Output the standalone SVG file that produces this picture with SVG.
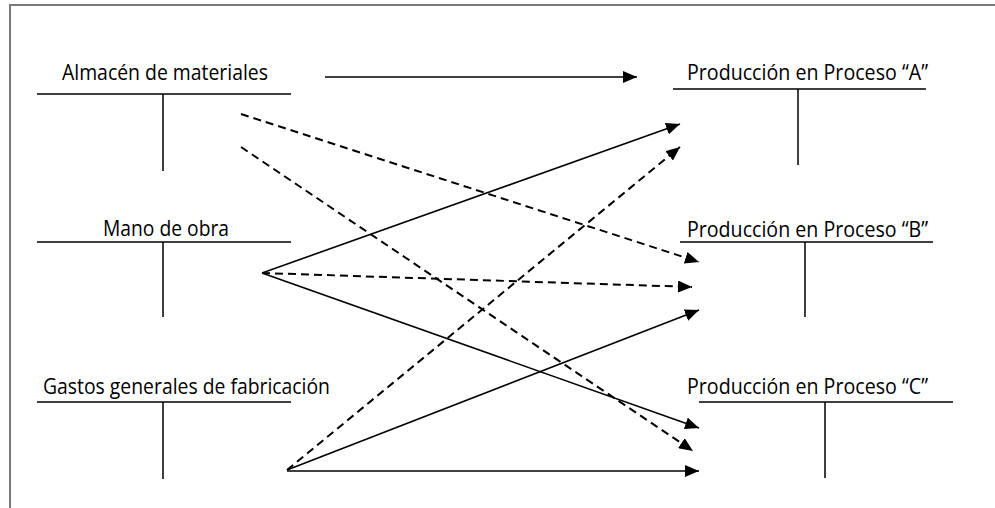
<svg xmlns="http://www.w3.org/2000/svg" width="995" height="508" viewBox="0 0 995 508">
  <style>
    .frame { stroke: #7a7a7a; stroke-width: 2; fill: none; }
    .acct { stroke: #000; stroke-width: 1.5; fill: none; }
    .lbl { font-family: "Open Sans", "Liberation Sans", sans-serif; font-size: 21px; fill: #000; }
    .flow { stroke: #000; stroke-width: 1.6; fill: none; marker-end: url(#head); }
    .dash { stroke-width: 2; stroke-dasharray: 8 5; }
  </style>
  <defs>
    <marker id="head" markerUnits="userSpaceOnUse" markerWidth="14" markerHeight="12" refX="14" refY="6" orient="auto">
      <path d="M0,0 L14,6 L0,12 z" fill="#000"/>
    </marker>
  </defs>

  <rect width="995" height="508" fill="#fff"/>
  <!-- page frame -->
  <path class="frame" d="M10,508 V5 H995"/>

  <!-- source accounts -->
  <g id="almacen">
    <text class="lbl" x="62" y="80" textLength="206" lengthAdjust="spacingAndGlyphs">Almacén de materiales</text>
    <path class="acct" d="M37,94 H291 M163,94 V171"/>
  </g>
  <g id="mano-obra">
    <text class="lbl" x="103" y="236" textLength="126" lengthAdjust="spacingAndGlyphs">Mano de obra</text>
    <path class="acct" d="M37,242 H291 M163,242 V317"/>
  </g>
  <g id="gastos-generales">
    <text class="lbl" x="43" y="394" textLength="287" lengthAdjust="spacingAndGlyphs">Gastos generales de fabricación</text>
    <path class="acct" d="M37,402 H291 M163,402 V479"/>
  </g>

  <!-- work-in-process accounts -->
  <g id="proceso-a">
    <text class="lbl" x="687" y="80" textLength="241" lengthAdjust="spacingAndGlyphs">Producción en Proceso “A”</text>
    <path class="acct" d="M673,89 H926 M798,89 V165"/>
  </g>
  <g id="proceso-b">
    <text class="lbl" x="687" y="237" textLength="241" lengthAdjust="spacingAndGlyphs">Producción en Proceso “B”</text>
    <path class="acct" d="M680,242 H933 M805,242 V317"/>
  </g>
  <g id="proceso-c">
    <text class="lbl" x="687" y="394" textLength="241" lengthAdjust="spacingAndGlyphs">Producción en Proceso “C”</text>
    <path class="acct" d="M699,402 H953 M825,402 V478"/>
  </g>

  <!-- cost flows -->
  <g id="connectors">
    <path class="flow" d="M325,77 L637,77"/>
    <path class="flow dash" d="M241,114 L699,262"/>
    <path class="flow dash" d="M241,147 L693,451"/>
    <path class="flow" d="M262,273 L680,124"/>
    <path class="flow dash" d="M262,273 L692,287"/>
    <path class="flow" d="M262,273 L699,428"/>
    <path class="flow dash" d="M287,470 L680,147"/>
    <path class="flow" d="M287,470 L699,310"/>
    <path class="flow" d="M287,471 L699,471"/>
  </g>
</svg>
